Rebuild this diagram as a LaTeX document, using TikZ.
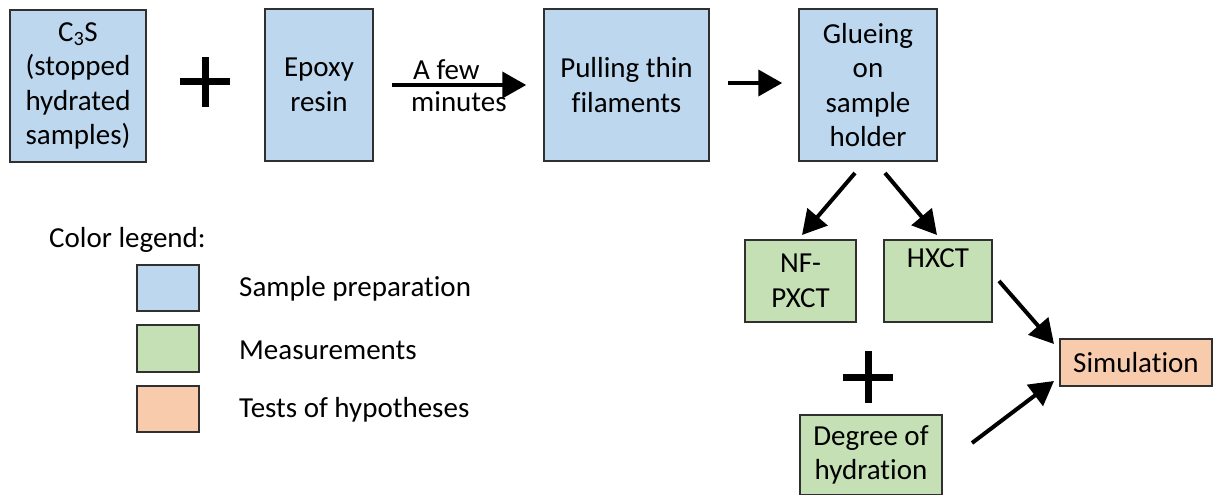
\documentclass[tikz,border=0pt]{standalone}
\usepackage{fontspec}
\setmainfont{Carlito}[Ligatures={NoCommon}]
\usetikzlibrary{arrows.meta}
\definecolor{prep}{HTML}{BDD7EE}
\definecolor{meas}{HTML}{C5E0B4}
\definecolor{hyp}{HTML}{F8CBAD}
\definecolor{edge}{HTML}{303030}
\tikzset{
  box/.style={draw=edge, line width=1.5pt, inner sep=0pt, align=center, font=\fontsize{29}{34.5}\selectfont},
  prepbox/.style={box, fill=prep},
  measbox/.style={box, fill=meas},
  hypbox/.style={box, fill=hyp},
  flow/.style={line width=4pt, -{Triangle[length=24pt,width=26pt]}},
  plusbar/.style={line width=7pt},
  txt/.style={inner sep=0pt, font=\fontsize{29}{32}\selectfont}
}
\begin{document}
\begin{tikzpicture}[x=1pt,y=-1pt]
\useasboundingbox (0,0) rectangle (1213,495);
% top row
\node[prepbox, minimum width=136, minimum height=152] (c3s) at (78,86) {C\textsubscript{3}S\\(stopped\\hydrated\\samples)};
\node[prepbox, minimum width=108, minimum height=152] (epoxy) at (319,85) {Epoxy\\resin};
\node[prepbox, minimum width=165, minimum height=152] (pull) at (626.5,85) {Pulling thin\\filaments};
\node[prepbox, minimum width=138, minimum height=152] (glue) at (868,85) {Glueing\\on\\sample\\holder};
% plus 1
\coordinate (p1) at (205,82);
\draw[plusbar] ([xshift=-25pt]p1) -- ([xshift=25pt]p1);
\draw[plusbar] ([yshift=-25pt]p1) -- ([yshift=25pt]p1);
% arrows top
\draw[flow, shorten <=18pt, shorten >=17pt] (epoxy.east) -- (pull.west);
\node[txt, anchor=west, align=left] (few) at (411,86) {\kern2pt A few\\minutes};
\draw[flow, shorten <=18pt, shorten >=16pt] ([yshift=2pt]pull.east) -- ([yshift=2pt]glue.west);
% measurement row
\node[measbox, minimum width=111, minimum height=82] (nf) at (800.5,281) {NF-\\PXCT};
\node[measbox, minimum width=108, minimum height=82] (hx) at (938,281) {HXCT\\\strut};
\node[hypbox, minimum width=152, minimum height=47] (sim) at (1136,362.5) {Simulation};
\node[measbox, minimum width=142, minimum height=80] (deg) at (871,455) {Degree of\\hydration};
% plus 2
\coordinate (p2) at (868,377);
\draw[plusbar] ([xshift=-25pt]p2) -- ([xshift=25pt]p2);
\draw[plusbar] ([yshift=-26pt]p2) -- ([yshift=26pt]p2);
% diagonal arrows
\coordinate (g1) at (855,173);
\coordinate (g1e) at (802,235);
\coordinate (g2) at (885,173);
\coordinate (g2e) at (937,235);
\coordinate (h1) at (999,281);
\coordinate (h1e) at (1054,344);
\coordinate (d1) at (972,443);
\coordinate (d1e) at (1054,381);
\draw[flow] (g1) -- (g1e);
\draw[flow] (g2) -- (g2e);
\draw[flow] (h1) -- (h1e);
\draw[flow] (d1) -- (d1e);
% legend
\node[txt, anchor=west] (legtitle) at (49,240) {Color legend:};
\node[prepbox, minimum width=62, minimum height=46] (lb) at (168,288) {};
\node[measbox, minimum width=62, minimum height=47] (lg) at (168,348.5) {};
\node[hypbox, minimum width=62, minimum height=46] (lo) at (168,409) {};
\node[txt, anchor=west] (lbt) at (239,289) {Sample preparation};
\node[txt, anchor=west] (lgt) at (239,350) {Measurements};
\node[txt, anchor=west] (lot) at (239,410) {Tests of hypotheses};
\end{tikzpicture}
\end{document}
